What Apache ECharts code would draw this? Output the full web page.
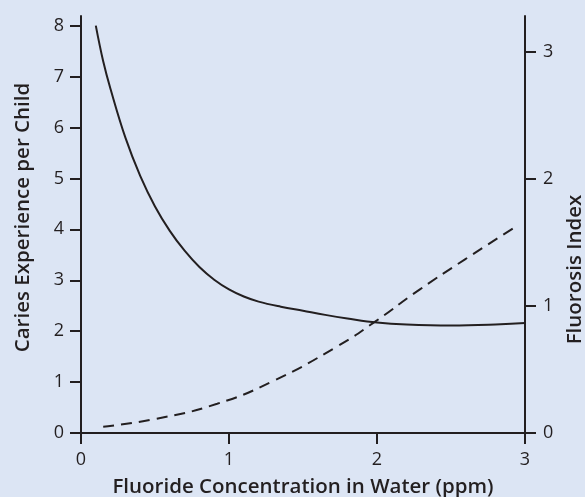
<!DOCTYPE html>
<html>
<head>
<meta charset="utf-8">
<script src="https://cdn.jsdelivr.net/npm/echarts@6/dist/echarts.min.js"></script>
<style>
html,body{margin:0;padding:0;background:#dce5f4;}
#c{width:585px;height:497px;}
</style>
</head>
<body>
<div id="c"></div>
<script>
// Caries experience per child (left axis)
const cariesX = [0.1, 0.15, 0.2, 0.3, 0.4, 0.5, 0.6, 0.7, 0.8, 0.9, 1.0, 1.1, 1.2, 1.35, 1.5, 1.65, 1.8, 2.0, 2.2, 2.5, 2.8, 3.0];
const cariesY = [8.0, 7.3, 6.75, 5.8, 5.05, 4.45, 3.97, 3.58, 3.26, 3.01, 2.82, 2.68, 2.58, 2.48, 2.4, 2.32, 2.25, 2.17, 2.13, 2.11, 2.13, 2.16];
// Fluorosis index (right axis)
const fluoroX = [0.15, 0.5, 0.92, 1.3, 1.73, 1.98, 2.29, 2.6, 2.92];
const fluoroY = [0.05, 0.11, 0.23, 0.41, 0.68, 0.87, 1.13, 1.37, 1.61];
// tick labels
const xTicks = [0, 1, 2, 3];
const leftTicks = [0, 1, 2, 3, 4, 5, 6, 7, 8];
const rightTicks = [0, 1, 2, 3];

const ink = '#231f20';
const font = '"Open Sans", "Noto Sans", sans-serif';
const nameSize = 20.5;
const tickSize = 18;

const chart = echarts.init(document.getElementById('c'), null, {renderer: 'canvas'});
chart.setOption({
  backgroundColor: '#dce5f4',
  animation: false,
  grid: {left: 81, right: 60, top: 16, bottom: 64, containLabel: false, outerBoundsMode: 'none'},
  xAxis: {
    type: 'value', min: 0, max: 3, interval: 1,
    name: 'Fluoride Concentration in Water (ppm)',
    nameLocation: 'middle', nameGap: 44,
    nameTextStyle: {fontFamily: font, fontSize: nameSize, fontWeight: 600, color: ink},
    axisLine: {show: true, lineStyle: {color: ink, width: 2}},
    axisTick: {show: true, inside: false, length: 11, lineStyle: {color: ink, width: 2}, customValues: xTicks},
    axisLabel: {fontFamily: font, fontSize: tickSize, color: ink, margin: 18, customValues: xTicks},
    splitLine: {show: false}
  },
  yAxis: [{
    type: 'value', min: 0, max: 8.19, position: 'left',
    name: 'Caries Experience per Child',
    nameLocation: 'middle', nameGap: 47,
    nameTextStyle: {fontFamily: font, fontSize: nameSize, fontWeight: 600, color: ink, padding: [0, 0, 0, 14]},
    axisLine: {show: true, lineStyle: {color: ink, width: 2}},
    axisTick: {show: true, length: 11, lineStyle: {color: ink, width: 2}, customValues: leftTicks},
    axisLabel: {fontFamily: font, fontSize: tickSize, color: ink, margin: 17, customValues: leftTicks},
    splitLine: {show: false}
  }, {
    type: 'value', min: 0, max: 3.28, position: 'right',
    name: 'Fluorosis Index',
    nameLocation: 'middle', nameGap: 39,
    nameTextStyle: {fontFamily: font, fontSize: nameSize, fontWeight: 600, color: ink, padding: [0, 90, 0, 0]},
    axisLine: {show: true, lineStyle: {color: ink, width: 2}},
    axisTick: {show: true, length: 11, lineStyle: {color: ink, width: 2}, customValues: rightTicks},
    axisLabel: {fontFamily: font, fontSize: tickSize, color: ink, margin: 18, customValues: rightTicks},
    splitLine: {show: false}
  }],
  series: [{
    type: 'line', yAxisIndex: 0, smooth: 0.4, showSymbol: false,
    lineStyle: {color: ink, width: 2},
    data: cariesX.map((x, i) => [x, cariesY[i]])
  }, {
    type: 'line', yAxisIndex: 1, smooth: true, showSymbol: false,
    lineStyle: {color: ink, width: 2, type: [11, 7]},
    data: fluoroX.map((x, i) => [x, fluoroY[i]])
  }]
});
</script>
</body>
</html>
